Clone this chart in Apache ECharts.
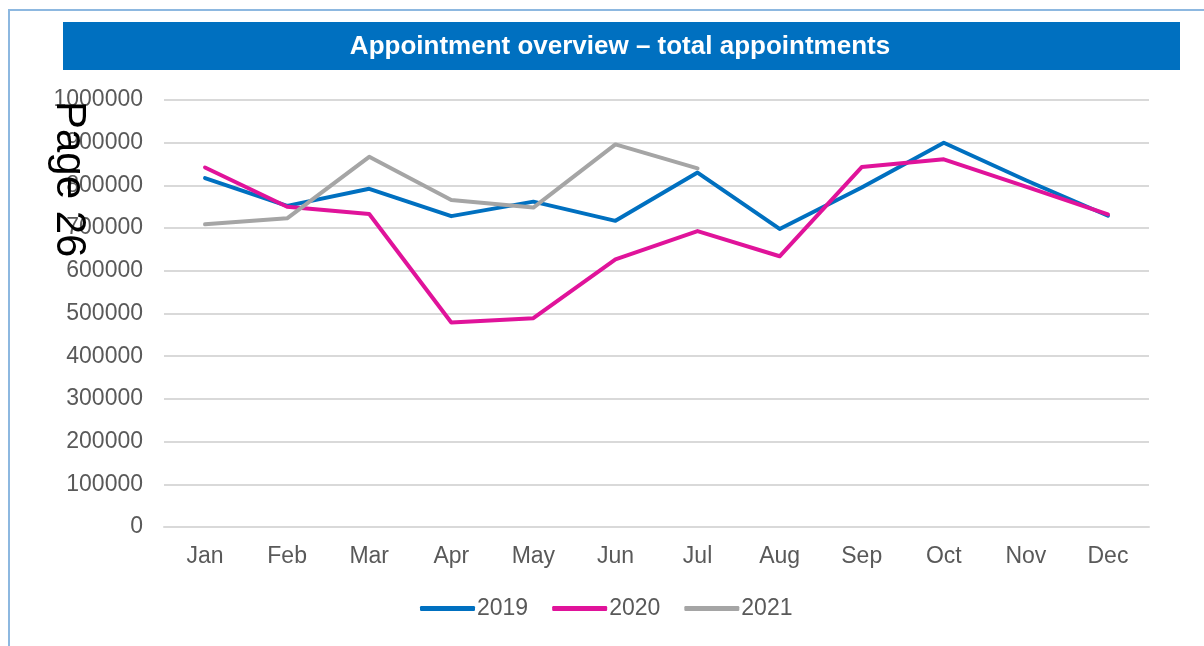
<!DOCTYPE html>
<html>
<head>
<meta charset="utf-8">
<script src="https://cdn.jsdelivr.net/npm/echarts@6/dist/echarts.min.js"></script>
<style>
  html, body { margin: 0; padding: 0; background: #fff; }
  #chart { width: 1204px; height: 646px; }
</style>
</head>
<body>
<div id="chart"></div>
<script>
// values
const months = ['Jan', 'Feb', 'Mar', 'Apr', 'May', 'Jun', 'Jul', 'Aug', 'Sep', 'Oct', 'Nov', 'Dec'];
const values2019 = [817000, 752000, 792000, 728000, 762000, 717000, 830000, 698000, 795000, 900000, 812000, 729000];
const values2020 = [842000, 750000, 733000, 479000, 489000, 627000, 693000, 634000, 843000, 861000, 797000, 732000];
const values2021 = [709000, 723000, 867000, 766000, 748000, 896000, 840000];
const yTicks = { min: 0, max: 1000000, interval: 100000 };

const FONT = '"Liberation Sans", Arial, sans-serif';
const labelGrey = '#595959';

const chart = echarts.init(document.getElementById('chart'));

function lineSeries(name, data, color) {
  return {
    name,
    type: 'line',
    data,
    showSymbol: false,
    symbol: 'none',
    lineStyle: { width: 4, color, cap: 'round', join: 'round' },
    itemStyle: { color },
    emphasis: { disabled: true }
  };
}

chart.setOption({
  backgroundColor: '#fff',
  animation: false,
  textStyle: { fontFamily: FONT },
  grid: { left: 164, right: 55, top: 100, bottom: 119, containLabel: false },
  legend: {
    left: 415,
    top: 592,
    icon: 'roundRect',
    itemWidth: 55,
    itemHeight: 5,
    itemGap: 24,
    textStyle: { color: labelGrey, fontSize: 23, fontFamily: FONT, padding: [0, 0, 0, -3] },
    data: ['2019', '2020', '2021']
  },
  xAxis: {
    type: 'category',
    data: months,
    boundaryGap: true,
    axisLine: { show: true, lineStyle: { color: '#d9d9d9', width: 2 } },
    axisTick: { show: false },
    axisLabel: { color: labelGrey, fontSize: 23, margin: 18 }
  },
  yAxis: {
    type: 'value',
    min: yTicks.min,
    max: yTicks.max,
    interval: yTicks.interval,
    axisLine: { show: false },
    axisTick: { show: false },
    axisLabel: { color: labelGrey, fontSize: 23, margin: 21, formatter: (v) => String(v) },
    splitLine: { lineStyle: { color: '#d9d9d9', width: 2 } }
  },
  series: [
    lineSeries('2019', values2019, '#0070C0'),
    lineSeries('2020', values2020, '#E0139A'),
    lineSeries('2021', values2021, '#A5A5A5')
  ],
  graphic: [
    // page frame
    { type: 'line', shape: { x1: 8, y1: 10, x2: 1204, y2: 10 }, style: { stroke: '#8db8e0', lineWidth: 2 }, z: 10 },
    { type: 'line', shape: { x1: 9, y1: 10, x2: 9, y2: 646 }, style: { stroke: '#8db8e0', lineWidth: 2 }, z: 10 },
    // title bar
    { type: 'rect', shape: { x: 63, y: 22, width: 1117, height: 48 }, style: { fill: '#0070C0' }, z: 5 },
    {
      type: 'text', x: 620, y: 47, z: 6,
      style: {
        text: 'Appointment overview \u2013 total appointments',
        fill: '#fff', font: 'bold 26px ' + FONT,
        textAlign: 'center', textVerticalAlign: 'middle'
      }
    },
    // rotated page number stamped over the axis
    {
      type: 'text', x: 90, y: 101, rotation: -Math.PI / 2, z: 20,
      style: {
        text: 'Page 26', fill: '#000', font: '42px ' + FONT,
        textAlign: 'left', textVerticalAlign: 'top'
      }
    }
  ]
});
</script>
</body>
</html>
